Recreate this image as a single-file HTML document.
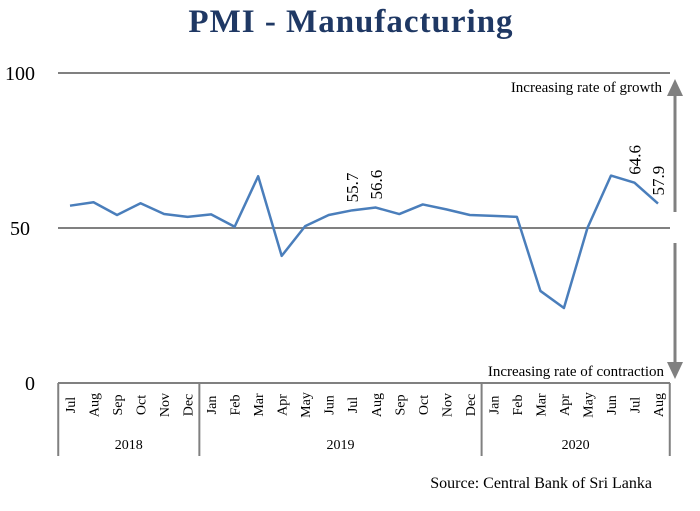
<!DOCTYPE html>
<html><head><meta charset="utf-8"><style>
body{margin:0;background:#fff;}
svg text{font-family:"Liberation Serif",serif;}
</style></head><body>
<svg id="c" width="700" height="506" xmlns="http://www.w3.org/2000/svg">
<text x="351" y="32" text-anchor="middle" font-size="33" font-weight="bold" letter-spacing="1" fill="#1f3864">PMI - Manufacturing</text>
<g id="grid"></g>
<g id="axis"></g>
<polyline id="line" fill="none" stroke="#4a7ebb" stroke-width="2.5" stroke-linejoin="round"/>
<g id="labels"></g>
<text x="662" y="92" text-anchor="end" font-size="15">Increasing rate of growth</text>
<text x="664" y="376" text-anchor="end" font-size="15">Increasing rate of contraction</text>
<g fill="#808080" stroke="#808080">
<line x1="675" y1="212" x2="675" y2="92" stroke-width="3"/>
<polygon points="667,96 683,96 675,79" stroke="none"/>
<line x1="675" y1="243" x2="675" y2="366" stroke-width="3"/>
<polygon points="667,362 683,362 675,379" stroke="none"/>
</g>
<text x="652" y="488" text-anchor="end" font-size="16">Source: Central Bank of Sri Lanka</text>
</svg>
<script>
const months=["Jul","Aug","Sep","Oct","Nov","Dec","Jan","Feb","Mar","Apr","May","Jun","Jul","Aug","Sep","Oct","Nov","Dec","Jan","Feb","Mar","Apr","May","Jun","Jul","Aug"];
const values=[57.2,58.3,54.2,58.0,54.5,53.6,54.4,50.4,66.7,41.0,50.6,54.2,55.7,56.6,54.5,57.6,56.0,54.2,53.9,53.6,29.7,24.2,50.0,66.9,64.6,57.9];
const years=["2018","2019","2020"];
const yearSpans=[6,12,8];
const yTicks=[0,50,100];
const labeled={12:"55.7",13:"56.6",24:"64.6",25:"57.9"};
const ns="http://www.w3.org/2000/svg";
const x=i=>70+i*23.52;
const y=v=>383-v*3.1;
function mk(t,a,p){const e=document.createElementNS(ns,t);for(const k in a)e.setAttribute(k,a[k]);p.appendChild(e);return e;}
const grid=document.getElementById('grid'),axis=document.getElementById('axis'),lab=document.getElementById('labels');
yTicks.forEach(t=>{
  if(t>0){const l=mk('line',{x1:58,x2:670,y1:y(t),y2:y(t),stroke:'#808080','stroke-width':2},grid);
  
  }
  const tx=mk('text',{x:t==0?30:20,y:y(t)+7,'font-size':20,'text-anchor':'middle'},grid);
  tx.textContent=t;
  
  
});
const bl=mk('line',{x1:58,x2:670,y1:383,y2:383,stroke:'#808080','stroke-width':2},axis);


let start=0;
const divs=[0];
yearSpans.forEach((s,k)=>{
  const cx=x(start+(s-1)/2);
  const yt=mk('text',{x:cx,y:449,'font-size':14,'text-anchor':'middle'},axis);
  yt.textContent=years[k];
  
  
  start+=s;divs.push(start);
});
divs.forEach(d=>{
  const l=mk('line',{x1:x(d-0.5),x2:x(d-0.5),y1:383,y2:456,stroke:'#808080','stroke-width':2},axis);
  
  
});
months.forEach((m,i)=>{
  const t=mk('text',{x:0,y:0,'font-size':14,'text-anchor':'middle',transform:`translate(${x(i)+5},405) rotate(-90)`},axis);
  t.textContent=m;
  
  
});
document.getElementById('line').setAttribute('points',values.map((v,i)=>x(i)+','+y(v)).join(' '));
for(const k in labeled){
  const i=+k;
  const t=mk('text',{x:0,y:0,'font-size':17,'text-anchor':'start',transform:`translate(${x(i)+6},${y(values[i])-8}) rotate(-90)`},lab);
  t.textContent=labeled[k];
  
  
}
</script>
</body></html>
